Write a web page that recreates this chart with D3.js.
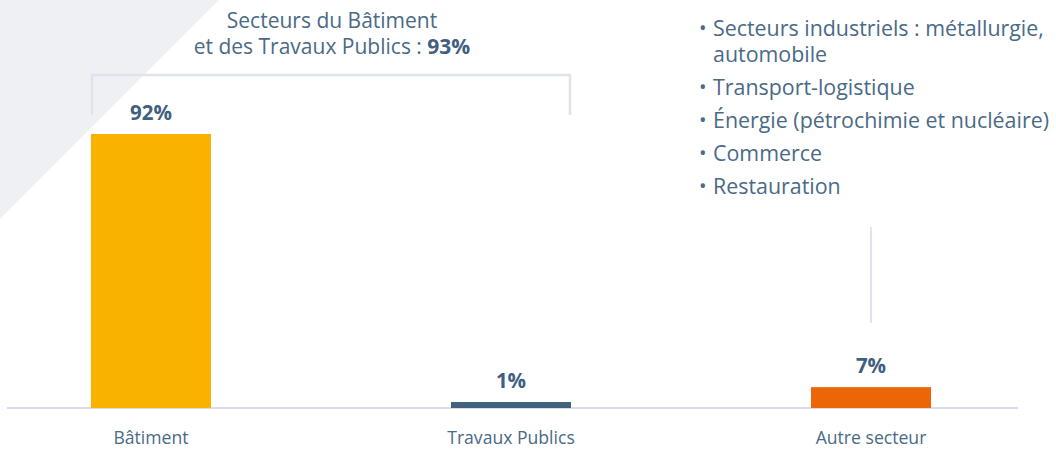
<!DOCTYPE html>
<html><head><meta charset="utf-8">
<script src="https://cdn.jsdelivr.net/npm/d3@7"></script>
<style>
html,body{margin:0;padding:0;background:#fff;}
svg{display:block;font-family:"Open Sans",sans-serif;}
</style></head>
<body>
<svg id="chart" width="1056" height="450"></svg>
<script>
const categories = ["Bâtiment", "Travaux Publics", "Autre secteur"];
const values = [92, 1, 7];
const valueLabels = ["92%", "1%", "7%"];
const colors = ["#f9b200", "#41627e", "#ec6608"];
const titleLines = ["Secteurs du Bâtiment", "et des Travaux Publics : "];
const titleTotal = "93%";
const otherItems = [
  ["Secteurs industriels : métallurgie,", "automobile"],
  ["Transport-logistique"],
  ["Énergie (pétrochimie et nucléaire)"],
  ["Commerce"],
  ["Restauration"]
];

const svg = d3.select("#chart");
const textColor = "#4a6a86";
const boldColor = "#3f6080";
const lineColor = "#dfe4ec";

// background triangle
svg.append("path").attr("d", "M0,0 L219,0 L0,219 Z").attr("fill", "#eef0f4");

const x = d3.scalePoint().domain(categories).range([151, 871]);
const y = d3.scaleLinear().domain([0, 92]).range([408, 134]);
const barW = 120;

// baseline axis
svg.append("line").attr("x1", 7).attr("x2", 1018).attr("y1", y(0)).attr("y2", y(0))
  .attr("stroke", "#d8dde7").attr("stroke-width", 2);

// bars
svg.selectAll("rect.bar").data(categories).join("rect")
  .attr("class", "bar")
  .attr("x", d => x(d) - barW / 2)
  .attr("width", barW)
  .attr("y", (d, i) => Math.min(y(values[i]), y(0) - 6))
  .attr("height", (d, i) => Math.max(y(0) - y(values[i]), 6))
  .attr("fill", (d, i) => colors[i]);

// value labels
svg.selectAll("text.val").data(categories).join("text")
  .attr("class", "val")
  .attr("x", d => x(d))
  .attr("y", (d, i) => Math.min(y(values[i]), y(0) - 6) - 14)
  .attr("text-anchor", "middle")
  .attr("font-size", 20.5).attr("font-weight", 700)
  .attr("fill", boldColor)
  .text((d, i) => valueLabels[i]);

// category labels
svg.selectAll("text.cat").data(categories).join("text")
  .attr("class", "cat")
  .attr("x", d => x(d))
  .attr("y", 444)
  .attr("text-anchor", "middle")
  .attr("font-size", 17.6)
  .attr("fill", textColor)
  .text(d => d);

// bracket over BTP
const bx0 = x(categories[0]) - barW / 2 + 1, bx1 = x(categories[1]) + barW / 2 - 1;
svg.append("path")
  .attr("d", `M${bx0},115 L${bx0},75 L${bx1},75 L${bx1},115`)
  .attr("fill", "none").attr("stroke", lineColor).attr("stroke-width", 2.5);

// title
const tx = 332;
const title = svg.append("text").attr("text-anchor", "middle")
  .attr("font-size", 21).attr("fill", textColor);
title.append("tspan").attr("x", tx).attr("y", 28).text(titleLines[0]);
const t2 = title.append("tspan").attr("x", tx).attr("y", 54);
t2.append("tspan").text(titleLines[1]);
t2.append("tspan").attr("font-weight", 700).attr("fill", boldColor).text(titleTotal);

// vertical connector above Autre secteur
svg.append("line").attr("x1", x(categories[2])).attr("x2", x(categories[2]))
  .attr("y1", 227).attr("y2", 323).attr("stroke", lineColor).attr("stroke-width", 2);

// bullet list
let ly = 36;
otherItems.forEach(item => {
  svg.append("text").attr("x", 699).attr("y", ly - 1).attr("font-size", 20)
    .attr("fill", textColor).text("•");
  const t = svg.append("text").attr("font-size", 21.4).attr("fill", textColor);
  item.forEach((line, j) => {
    t.append("tspan").attr("x", 713).attr("y", ly).text(line);
    if (j < item.length - 1) ly += 26;
  });
  ly += 33;
});
</script>
</body></html>
